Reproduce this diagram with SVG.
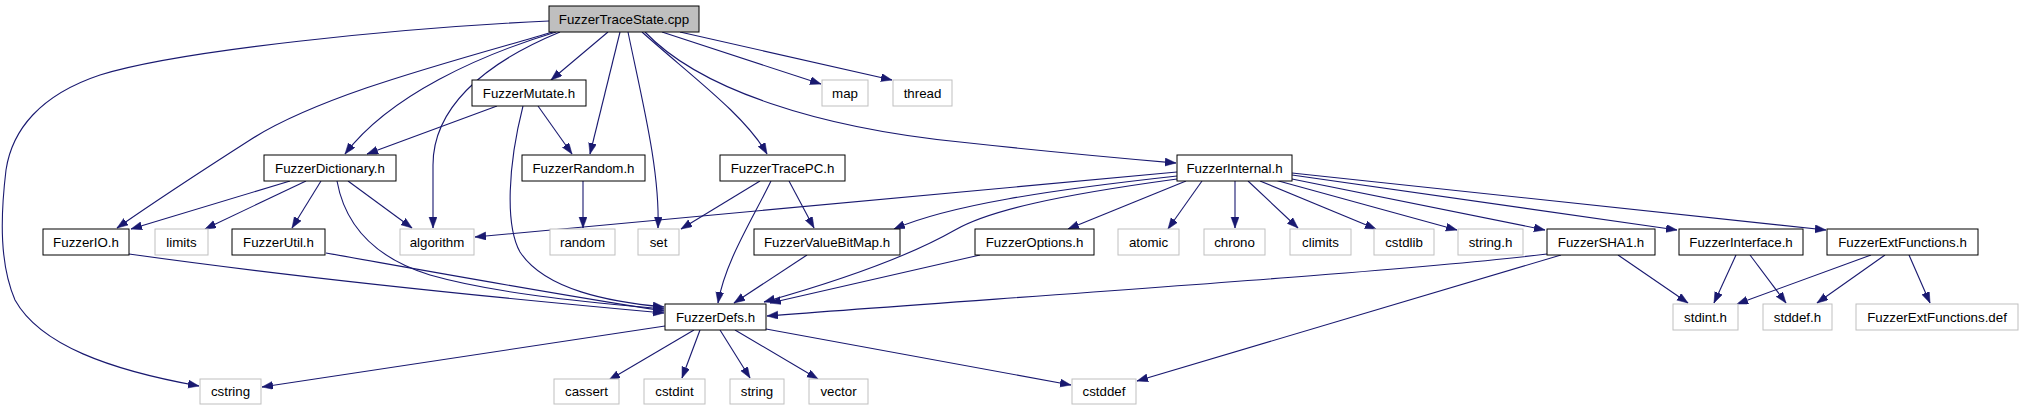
<svg xmlns="http://www.w3.org/2000/svg" width="2023" height="411" viewBox="0 0 2023 411">
<style>
.n rect{fill:#fff;stroke:#000;stroke-width:1}
.s rect{fill:#fff;stroke:#bfbfbf;stroke-width:1}
.r rect{fill:#bfbfbf;stroke:#000;stroke-width:1}
text{font-family:"Liberation Sans",Arial,Helvetica,sans-serif;font-size:13.3px;fill:#000;text-anchor:middle}
#edges path{fill:none;stroke:#191970;stroke-width:1.1;marker-end:url(#ah)}
</style>
<defs>
<marker id="ah" markerUnits="userSpaceOnUse" markerWidth="12" markerHeight="9" refX="11" refY="4" orient="auto">
<path d="M0,0 L11,4 L0,8 z" fill="#191970" stroke="#191970" stroke-width="0.5"/>
</marker>
</defs>
<rect width="2023" height="411" fill="#fff"/>
<g id="edges">
<path d="M549,21 C400,28 180,50 100,75 C40,95 12,130 6,170 C0,220 0,265 15,300 C40,345 110,370 199,386"/>
<path d="M553,32 C450,62 320,95 250,140 C200,172 150,205 117,228"/>
<path d="M556,32 C480,55 390,95 345,154"/>
<path d="M560,32 C480,65 433,110 433,165 L433,228"/>
<path d="M608,32 L551,80"/>
<path d="M620,32 L590,154"/>
<path d="M628,32 C642,100 660,170 658,228"/>
<path d="M642,32 C690,75 745,115 767,154"/>
<path d="M662,32 L821,84"/>
<path d="M680,32 L892,80"/>
<path d="M645,32 C700,90 820,128 960,142 C1060,153 1130,159 1176,163"/>
<path d="M497,106 L367,154"/>
<path d="M538,106 L572,154"/>
<path d="M523,106 C508,165 505,225 520,252 C545,290 610,302 664,307"/>
<path d="M290,181 L131,229"/>
<path d="M306,181 L205,229"/>
<path d="M321,181 L292,228"/>
<path d="M348,181 L412,228"/>
<path d="M337,181 C345,225 375,258 430,275 C500,295 600,303 664,309"/>
<path d="M129,254 C300,278 520,300 664,313"/>
<path d="M326,253 C450,275 560,295 664,311"/>
<path d="M583,181 L583,228"/>
<path d="M760,181 L681,229"/>
<path d="M789,181 L814,228"/>
<path d="M771,181 C752,220 725,262 718,303"/>
<path d="M807,255 L734,303"/>
<path d="M980,255 L770,303"/>
<path d="M1177,172 L475,237"/>
<path d="M1177,176 C1050,190 950,205 894,229"/>
<path d="M1186,181 L1068,229"/>
<path d="M1177,179 C1060,195 990,210 955,230 C920,250 860,275 764,302"/>
<path d="M1202,181 L1168,229"/>
<path d="M1235,181 L1235,228"/>
<path d="M1248,181 L1298,228"/>
<path d="M1260,181 L1376,229"/>
<path d="M1275,180 L1457,230"/>
<path d="M1287,178 L1545,230"/>
<path d="M1292,175 L1677,230"/>
<path d="M1292,173 L1826,230"/>
<path d="M1547,254 C1400,272 1000,298 767,316"/>
<path d="M1561,255 L1137,381"/>
<path d="M1618,255 L1688,303"/>
<path d="M1736,255 L1714,303"/>
<path d="M1750,255 L1786,303"/>
<path d="M1871,255 L1737,304"/>
<path d="M1885,255 L1817,303"/>
<path d="M1909,255 L1930,303"/>
<path d="M665,326 L262,387"/>
<path d="M694,330 L609,380"/>
<path d="M700,330 L682,378"/>
<path d="M720,330 L750,378"/>
<path d="M735,330 L818,379"/>
<path d="M766,329 L1071,385"/>
</g>
<g id="n-tracestate" class="r"><rect x="549" y="6" width="150" height="26"/><text x="624" y="24">FuzzerTraceState.cpp</text></g>
<g id="n-mutate" class="n"><rect x="472" y="80" width="114" height="26"/><text x="529" y="98">FuzzerMutate.h</text></g>
<g id="n-map" class="s"><rect x="822" y="80" width="46" height="26"/><text x="845" y="98">map</text></g>
<g id="n-thread" class="s"><rect x="893" y="80" width="59" height="26"/><text x="922.5" y="98">thread</text></g>
<g id="n-dictionary" class="n"><rect x="264" y="155" width="132" height="26"/><text x="330" y="173">FuzzerDictionary.h</text></g>
<g id="n-random-h" class="n"><rect x="522" y="155" width="123" height="26"/><text x="583.5" y="173">FuzzerRandom.h</text></g>
<g id="n-tracepc" class="n"><rect x="720" y="155" width="125" height="26"/><text x="782.5" y="173">FuzzerTracePC.h</text></g>
<g id="n-internal" class="n"><rect x="1177" y="155" width="115" height="26"/><text x="1234.5" y="173">FuzzerInternal.h</text></g>
<g id="n-io" class="n"><rect x="43" y="229" width="86" height="26"/><text x="86" y="247">FuzzerIO.h</text></g>
<g id="n-limits" class="s"><rect x="155" y="229" width="53" height="26"/><text x="181.5" y="247">limits</text></g>
<g id="n-util" class="n"><rect x="232" y="229" width="93" height="26"/><text x="278.5" y="247">FuzzerUtil.h</text></g>
<g id="n-algorithm" class="s"><rect x="400" y="229" width="74" height="26"/><text x="437" y="247">algorithm</text></g>
<g id="n-random" class="s"><rect x="550" y="229" width="65" height="26"/><text x="582.5" y="247">random</text></g>
<g id="n-set" class="s"><rect x="638" y="229" width="41" height="26"/><text x="658.5" y="247">set</text></g>
<g id="n-valuebitmap" class="n"><rect x="754" y="229" width="146" height="26"/><text x="827" y="247">FuzzerValueBitMap.h</text></g>
<g id="n-options" class="n"><rect x="975" y="229" width="119" height="26"/><text x="1034.5" y="247">FuzzerOptions.h</text></g>
<g id="n-atomic" class="s"><rect x="1118" y="229" width="61" height="26"/><text x="1148.5" y="247">atomic</text></g>
<g id="n-chrono" class="s"><rect x="1204" y="229" width="61" height="26"/><text x="1234.5" y="247">chrono</text></g>
<g id="n-climits" class="s"><rect x="1290" y="229" width="61" height="26"/><text x="1320.5" y="247">climits</text></g>
<g id="n-cstdlib" class="s"><rect x="1374" y="229" width="60" height="26"/><text x="1404" y="247">cstdlib</text></g>
<g id="n-stringh" class="s"><rect x="1458" y="229" width="65" height="26"/><text x="1490.5" y="247">string.h</text></g>
<g id="n-sha1" class="n"><rect x="1547" y="229" width="108" height="26"/><text x="1601" y="247">FuzzerSHA1.h</text></g>
<g id="n-interface" class="n"><rect x="1679" y="229" width="124" height="26"/><text x="1741" y="247">FuzzerInterface.h</text></g>
<g id="n-extfunctions" class="n"><rect x="1827" y="229" width="151" height="26"/><text x="1902.5" y="247">FuzzerExtFunctions.h</text></g>
<g id="n-defs" class="n"><rect x="665" y="304" width="101" height="26"/><text x="715.5" y="322">FuzzerDefs.h</text></g>
<g id="n-stdint" class="s"><rect x="1673" y="304" width="65" height="26"/><text x="1705.5" y="322">stdint.h</text></g>
<g id="n-stddef" class="s"><rect x="1763" y="304" width="69" height="26"/><text x="1797.5" y="322">stddef.h</text></g>
<g id="n-extdef" class="s"><rect x="1856" y="304" width="162" height="26"/><text x="1937" y="322">FuzzerExtFunctions.def</text></g>
<g id="n-cstring" class="s"><rect x="200" y="379" width="61" height="25"/><text x="230.5" y="396">cstring</text></g>
<g id="n-cassert" class="s"><rect x="554" y="379" width="65" height="25"/><text x="586.5" y="396">cassert</text></g>
<g id="n-cstdint" class="s"><rect x="644" y="379" width="61" height="25"/><text x="674.5" y="396">cstdint</text></g>
<g id="n-string" class="s"><rect x="730" y="379" width="54" height="25"/><text x="757" y="396">string</text></g>
<g id="n-vector" class="s"><rect x="809" y="379" width="59" height="25"/><text x="838.5" y="396">vector</text></g>
<g id="n-cstddef" class="s"><rect x="1072" y="379" width="64" height="25"/><text x="1104" y="396">cstddef</text></g>
</svg>
